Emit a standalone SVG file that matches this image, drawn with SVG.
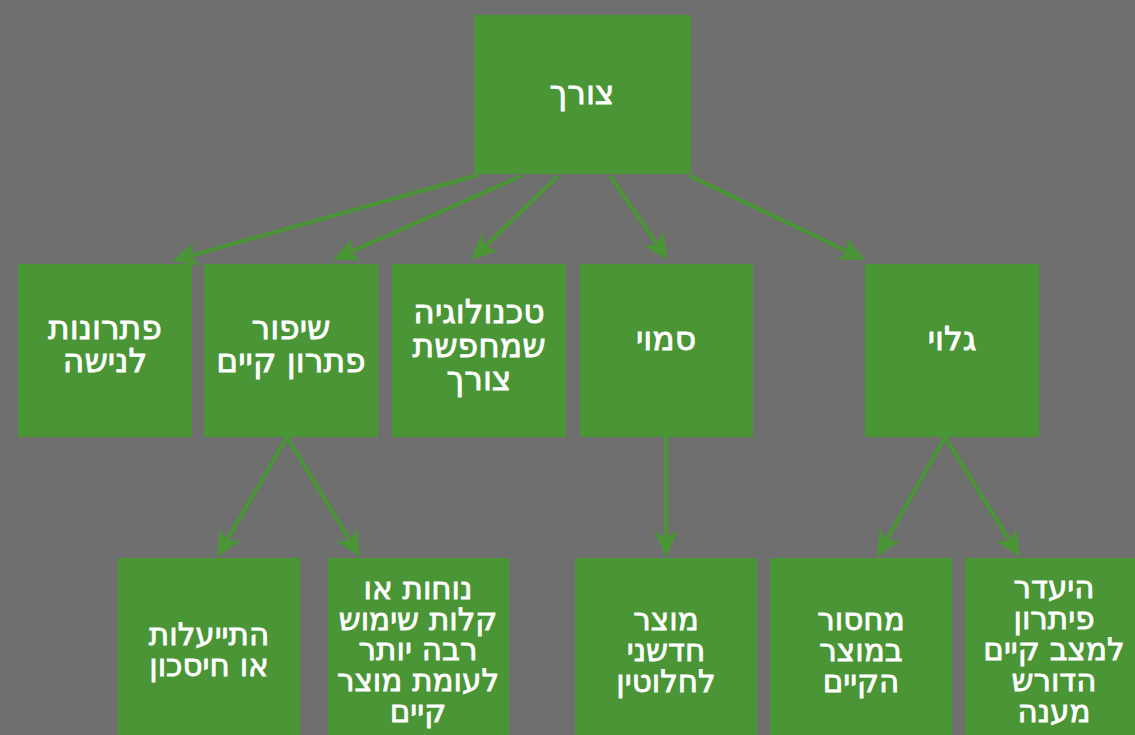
<svg xmlns="http://www.w3.org/2000/svg" width="1135" height="735" viewBox="0 0 1135 735">
<style>
.box{fill:#4a9536}
.t{fill:#ffffff;stroke:#ffffff;stroke-width:0.8px;font-family:"DejaVu Sans","Liberation Sans",sans-serif;text-anchor:middle}
.l1{font-size:33px}
.l2{font-size:33px}
.l3{font-size:31px}
.edge{stroke:#4a9536;stroke-width:4;fill:none}
</style>
<defs>
<marker id="arr" markerUnits="userSpaceOnUse" markerWidth="26" markerHeight="24" viewBox="0 0 26 24" refX="7" refY="12" orient="auto">
<path d="M0,0 L26,12 L0,24 L7,12 Z" fill="#4a9536"/>
</marker>
</defs>
<rect width="1135" height="735" fill="#6f6f6f"/>
<g id="connectors">
<line class="edge" x1="478" y1="175" x2="190.3" y2="255.9" marker-end="url(#arr)"/>
<line class="edge" x1="521" y1="176" x2="350.3" y2="252.2" marker-end="url(#arr)"/>
<line class="edge" x1="558" y1="176" x2="484.7" y2="246.8" marker-end="url(#arr)"/>
<line class="edge" x1="610" y1="176" x2="657.2" y2="244.4" marker-end="url(#arr)"/>
<line class="edge" x1="690" y1="176" x2="847.9" y2="251.8" marker-end="url(#arr)"/>
<line class="edge" x1="287" y1="437" x2="226.6" y2="540.6" marker-end="url(#arr)"/>
<line class="edge" x1="287" y1="437" x2="350.1" y2="540.8" marker-end="url(#arr)"/>
<line class="edge" x1="666" y1="437" x2="666" y2="538" marker-end="url(#arr)"/>
<line class="edge" x1="945" y1="437" x2="886.4" y2="540.5" marker-end="url(#arr)"/>
<line class="edge" x1="945" y1="437" x2="1009.9" y2="540.9" marker-end="url(#arr)"/>
</g>
<g id="n-root"><rect class="box" x="474" y="15" width="217" height="159"/>
<text class="t l1" x="582" y="104">צורך</text></g>
<g id="n-niche"><rect class="box" x="18" y="264" width="174" height="173"/>
<text class="t l2" x="105"><tspan x="105" y="339">פתרונות</tspan><tspan x="105" y="372">לנישה</tspan></text></g>
<g id="n-improve"><rect class="box" x="204" y="264" width="174" height="173"/>
<text class="t l2" x="291"><tspan x="291" y="339">שיפור</tspan><tspan x="291" y="372">פתרון קיים</tspan></text></g>
<g id="n-tech"><rect class="box" x="392" y="264" width="174" height="173"/>
<text class="t l2" x="479"><tspan x="479" y="323">טכנולוגיה</tspan><tspan x="479" y="357">שמחפשת</tspan><tspan x="479" y="390">צורך</tspan></text></g>
<g id="n-hidden"><rect class="box" x="580" y="264" width="173" height="173"/>
<text class="t l2" x="666" y="350">סמוי</text></g>
<g id="n-open"><rect class="box" x="865" y="264" width="174" height="173"/>
<text class="t l2" x="952" y="350">גלוי</text></g>
<g id="n-eff"><rect class="box" x="118" y="558" width="182" height="186"/>
<text class="t l3" x="209"><tspan x="209" y="645">התייעלות</tspan><tspan x="209" y="676">או חיסכון</tspan></text></g>
<g id="n-ease"><rect class="box" x="328" y="558" width="181" height="186"/>
<text class="t l3" x="418"><tspan x="418" y="599">נוחות או</tspan><tspan x="418" y="630">קלות שימוש</tspan><tspan x="418" y="660">רבה יותר</tspan><tspan x="418" y="691">לעומת מוצר</tspan><tspan x="418" y="722">קיים</tspan></text></g>
<g id="n-new"><rect class="box" x="575" y="558" width="182" height="186"/>
<text class="t l3" x="666"><tspan x="666" y="630">מוצר</tspan><tspan x="666" y="661">חדשני</tspan><tspan x="666" y="692">לחלוטין</tspan></text></g>
<g id="n-lack"><rect class="box" x="770" y="558" width="182" height="186"/>
<text class="t l3" x="861"><tspan x="861" y="630">מחסור</tspan><tspan x="861" y="661">במוצר</tspan><tspan x="861" y="692">הקיים</tspan></text></g>
<g id="n-none"><rect class="box" x="965" y="558" width="182" height="186"/>
<text class="t l3" x="1054"><tspan x="1054" y="598">היעדר</tspan><tspan x="1054" y="629">פיתרון</tspan><tspan x="1054" y="660">למצב קיים</tspan><tspan x="1054" y="691">הדורש</tspan><tspan x="1054" y="722">מענה</tspan></text></g>
</svg>
